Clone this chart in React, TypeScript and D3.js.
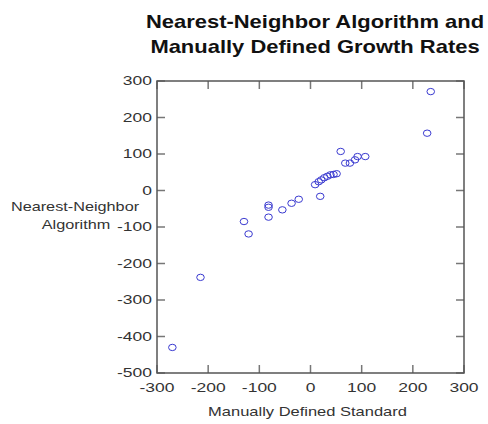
import { useEffect, useRef } from 'react';
import * as d3 from 'd3';

const standardValues = [235, 228, 59, 68, 77, 87, 92, 107, 51, 45, 39, 33, 27, 21, 16, 9, 19, -23, -37, -55, -82, -82, -82, -130, -121, -215, -270];
const algorithmValues = [271, 157, 107, 75, 75, 84, 93, 93, 46, 44, 43, 39, 35, 29, 24, 16, -16, -24, -35, -53, -40, -46, -73, -85, -119, -238, -430];
const xTicks = [-300, -200, -100, 0, 100, 200, 300];
const yTicks = [300, 200, 100, 0, -100, -200, -300, -400, -500];
const titleLines = ['Nearest-Neighbor Algorithm and', 'Manually Defined Growth Rates'];
const yLabelLines = ['Nearest-Neighbor', 'Algorithm'];
const xLabel = 'Manually Defined Standard';

export default function App() {
  const svgRef = useRef<SVGSVGElement>(null);

  useEffect(() => {
    if (!svgRef.current) return;
    const width = 488;
    const height = 424;
    const m = { left: 157, right: 464, top: 81, bottom: 373 };
    const font = '"Liberation Sans", Arial, Helvetica, sans-serif';

    const svg = d3.select(svgRef.current);
    svg.selectAll('*').remove();
    svg.attr('width', width).attr('height', height);

    const x = d3.scaleLinear().domain([-300, 300]).range([m.left, m.right]);
    const y = d3.scaleLinear().domain([-500, 300]).range([m.bottom, m.top]);

    // the original looks horizontally stretched, so texts get a scaleX
    const stretchedText = (px: number, py: number, txt: string, size: number, sx: number, anchor: string, weight = 'normal', fill = '#333') =>
      svg
        .append('text')
        .attr('transform', `translate(${px},${py}) scale(${sx},1)`)
        .attr('text-anchor', anchor)
        .attr('font-family', font)
        .attr('font-size', size)
        .attr('font-weight', weight)
        .attr('fill', fill)
        .text(txt);

    // Title
    titleLines.forEach((t, i) => stretchedText(315, 27.5 + i * 25, t, 18, 1.22, 'middle', 'bold', '#111'));

    // Ticks (inward, mirrored on all sides)
    const tickLen = 8;
    const tickColor = '#777';
    xTicks.forEach((v) => {
      svg.append('line').attr('x1', x(v)).attr('x2', x(v)).attr('y1', m.bottom).attr('y2', m.bottom - tickLen).attr('stroke', tickColor).attr('stroke-width', 1.5);
      svg.append('line').attr('x1', x(v)).attr('x2', x(v)).attr('y1', m.top).attr('y2', m.top + tickLen).attr('stroke', tickColor).attr('stroke-width', 1.5);
      stretchedText(x(v), m.bottom + 19, String(v), 12.5, 1.4, 'middle');
    });
    yTicks.forEach((v) => {
      svg.append('line').attr('x1', m.left).attr('x2', m.left + tickLen).attr('y1', y(v)).attr('y2', y(v)).attr('stroke', tickColor).attr('stroke-width', 1.5);
      svg.append('line').attr('x1', m.right).attr('x2', m.right - tickLen).attr('y1', y(v)).attr('y2', y(v)).attr('stroke', tickColor).attr('stroke-width', 1.5);
      stretchedText(m.left - 5, y(v) + 4.3, String(v), 12.5, 1.4, 'end');
    });

    // Frame
    svg
      .append('rect')
      .attr('x', m.left)
      .attr('y', m.top)
      .attr('width', m.right - m.left)
      .attr('height', m.bottom - m.top)
      .attr('fill', 'none')
      .attr('stroke', '#555')
      .attr('stroke-width', 1.5);

    // Axis labels
    stretchedText(75, 211, yLabelLines[0], 12.5, 1.3, 'middle');
    stretchedText(76, 229, yLabelLines[1], 12.5, 1.3, 'middle');
    stretchedText(307.5, 416, xLabel, 12.5, 1.32, 'middle');

    // Points
    svg
      .append('g')
      .selectAll('ellipse')
      .data(standardValues.map((v, i) => [v, algorithmValues[i]]))
      .enter()
      .append('ellipse')
      .attr('cx', (d) => x(d[0]))
      .attr('cy', (d) => y(d[1]))
      .attr('rx', 3.8)
      .attr('ry', 3.2)
      .attr('fill', 'none')
      .attr('stroke', '#3a3ad0')
      .attr('stroke-width', 1);
  }, []);

  return <svg ref={svgRef} style={{ position: 'absolute', left: 0, top: 0, background: '#fff' }}></svg>;
}
